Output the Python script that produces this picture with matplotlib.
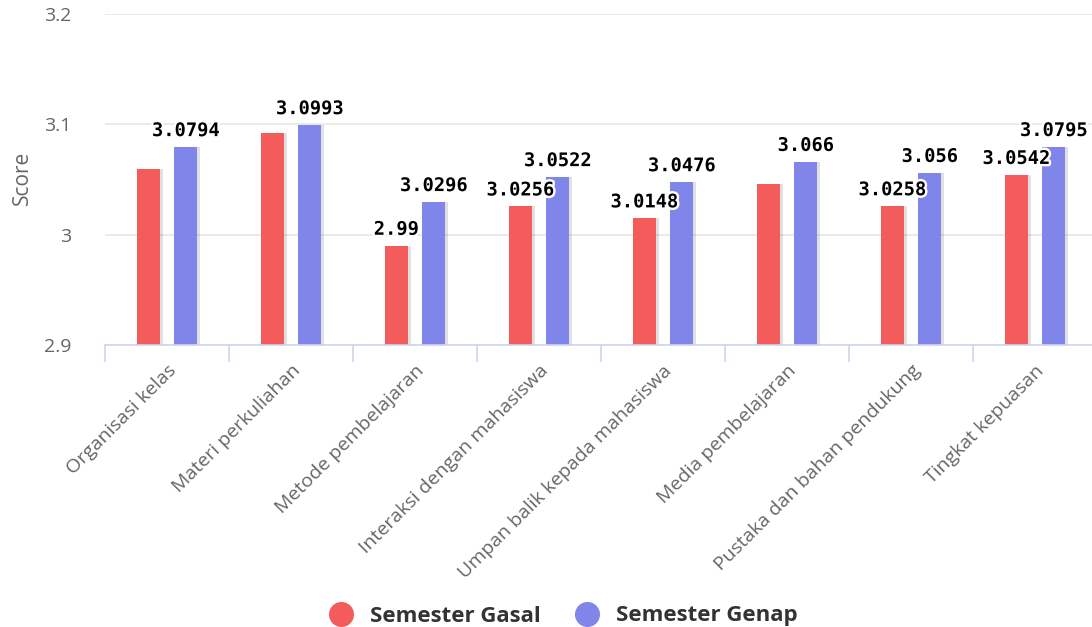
import numpy as np
import matplotlib
matplotlib.use('Agg')
import matplotlib.pyplot as plt
import matplotlib.patheffects as pe
from matplotlib.lines import Line2D

categories = ['Organisasi kelas', 'Materi perkuliahan', 'Metode pembelajaran',
              'Interaksi dengan mahasiswa', 'Umpan balik kepada mahasiswa',
              'Media pembelajaran', 'Pustaka dan bahan pendukung', 'Tingkat kepuasan']
gasal = [3.0597, 3.0921, 2.99, 3.0256, 3.0148, 3.0458, 3.0258, 3.0542]
genap = [3.0794, 3.0993, 3.0296, 3.0522, 3.0476, 3.066, 3.056, 3.0795]
# which data labels survive the overlap check in the original chart
show_gasal = [False, False, True, True, True, False, True, True]
show_genap = [True, True, True, True, True, True, True, True]

red = '#f45b5b'
blue = '#8085e9'
font = 'Open Sans'

fig = plt.figure(figsize=(10.92, 6.27), dpi=100)
ax = fig.add_axes([105 / 1092, 1 - 345 / 627, 992 / 1092, (345 - 14) / 627])

x = np.arange(len(categories))
w = 0.186
off = 0.151
sh = 0.022  # shadow offset

ax.bar(x - off + sh, gasal, w, color='#000000', alpha=0.12, zorder=2)
ax.bar(x + off + sh, genap, w, color='#000000', alpha=0.12, zorder=2)
ax.bar(x - off, gasal, w, color=red, zorder=3)
ax.bar(x + off, genap, w, color=blue, zorder=3)

stroke = [pe.withStroke(linewidth=3.5, foreground='white')]
for i in range(len(categories)):
    for xs, vals, show in ((x - off, gasal, show_gasal), (x + off, genap, show_genap)):
        if show[i]:
            ax.annotate(f'{vals[i]:g}', (xs[i], vals[i]), xytext=(0, 5),
                        textcoords='offset points', ha='center', va='bottom',
                        fontsize=13.5, fontweight='bold', family='DejaVu Sans Mono',
                        color='black', path_effects=stroke, zorder=5)

ax.set_ylim(2.9, 3.2)
ax.set_xlim(-0.5, len(categories) - 0.5)
ax.set_yticks([2.9, 3.0, 3.1, 3.2])
ax.set_yticklabels(['2.9', '3', '3.1', '3.2'])
ax.yaxis.grid(True, color='#e6e6e6', lw=1.2, zorder=0)
ax.set_axisbelow(True)
for s in ['top', 'right', 'left']:
    ax.spines[s].set_visible(False)
ax.spines['bottom'].set_color('#ccd6eb')
ax.spines['bottom'].set_linewidth(1.2)
ax.spines['bottom'].set_zorder(4)

ax.tick_params(axis='y', length=0, pad=24, labelsize=14, labelcolor='#666666')
for lbl in ax.get_yticklabels():
    lbl.set_family(font)

ax.set_xticks(x)
ax.set_xticklabels(categories, rotation=45, ha='right', va='top',
                   rotation_mode='anchor', fontsize=14, color='#666666', family=font)
ax.tick_params(axis='x', which='major', length=0, pad=12)
ax.set_xticks(np.arange(-0.5, len(categories)), minor=True)
ax.tick_params(axis='x', which='minor', length=12, color='#ccd6eb', width=1.2)

fig.text(22 / 1092, 1 - 178 / 627, 'Score', rotation=90, ha='center', va='center',
         fontsize=15, color='#666666', family=font)

handles = [Line2D([], [], marker='o', ls='', ms=17, color=red),
           Line2D([], [], marker='o', ls='', ms=17, color=blue)]
fig.legend(handles, ['Semester Gasal', 'Semester Genap'], loc='center',
           bbox_to_anchor=(558 / 1092, 1 - 616 / 627), ncol=2, frameon=False,
           handletextpad=0.3, columnspacing=1.1,
           prop={'family': font, 'weight': 'bold', 'size': 16},
           labelcolor='#333333')

fig.savefig('out.png', dpi=100)
